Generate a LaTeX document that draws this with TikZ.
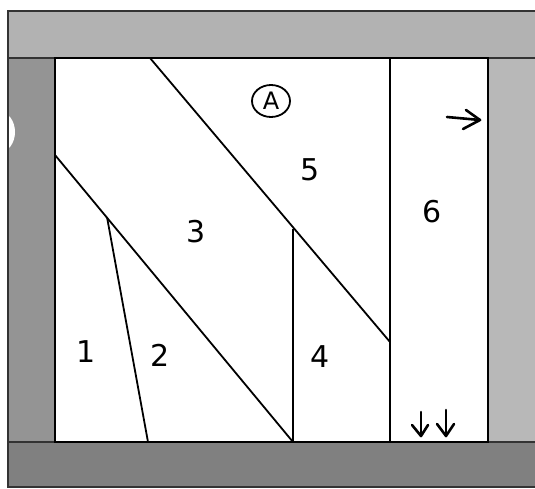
\documentclass[tikz,border=0pt]{standalone}
\usepackage{fontspec}
\setmainfont{DejaVu Sans}
\usetikzlibrary{shapes.geometric}
\begin{document}
\begin{tikzpicture}[x=1pt,y=-1pt,
  band/.style={draw=black!80,line width=1.6pt},
  seam/.style={draw=black,line width=1.8pt},
  lbl/.style={font=\fontsize{30}{30}\selectfont},
  hand/.style={draw=black,line width=2.6pt,line cap=round,line join=round}]
\useasboundingbox (0,0) rectangle (535,489);
% bands
\fill[black!30] (8,11) rectangle (535,58);
\fill[black!42] (8,58) rectangle (55,442);
\fill[black!28] (488,58) rectangle (535,442);
\fill[black!50] (8,442) rectangle (535,487);
\fill[white] (0,132) ellipse (15 and 20);
\draw[band] (535,11) -- (8,11) -- (8,487) -- (535,487);
\draw[band] (535,58) -- (8,58);
\draw[band] (535,442) -- (8,442);
% inner panel
\coordinate (tl) at (55,58);
\coordinate (tr) at (488,58);
\coordinate (bl) at (55,442);
\coordinate (br) at (488,442);
\draw[seam] (tl) rectangle (br);
% seams
\coordinate (a) at (150,58);
\coordinate (b) at (390,342);
\coordinate (c) at (55,155);
\coordinate (d) at (293,442);
\coordinate (e) at (107,217);
\coordinate (f) at (148,442);
\coordinate (g) at (293,229);
\coordinate (h) at (390,58);
\coordinate (k) at (390,442);
\draw[seam] (a) -- (b);
\draw[seam] (h) -- (k);
\draw[seam] (c) -- (d);
\draw[seam] (g) -- (d);
\draw[seam] (e) -- (f);
% labels
\node[lbl] (n1) at (86,352) {1};
\node[lbl] (n2) at (160,355) {2};
\node[lbl] (n3) at (196,232) {3};
\node[lbl] (n4) at (320,357) {4};
\node[lbl] (n5) at (310,170) {5};
\node[lbl] (n6) at (432,212) {6};
\node[font=\fontsize{24}{24}\selectfont,draw,line width=1.8pt,ellipse,inner sep=0pt,minimum width=38pt,minimum height=32pt] (nA) at (271,101) {A};
% hand arrows
\coordinate (r1) at (447,117);
\coordinate (r2) at (480,120);
\draw[hand] (r1) -- (r2);
\draw[hand] (466,110) -- (480,120) -- (463,129);
\coordinate (d1) at (421,412);
\coordinate (d2) at (421,436);
\draw[hand] (d1) -- (d2);
\draw[hand] (412,425) -- (421,436) -- (428,425);
\coordinate (d3) at (446,410);
\coordinate (d4) at (446,436);
\draw[hand] (d3) -- (d4);
\draw[hand] (437,424) -- (446,436) -- (454,424);
\end{tikzpicture}
\end{document}
